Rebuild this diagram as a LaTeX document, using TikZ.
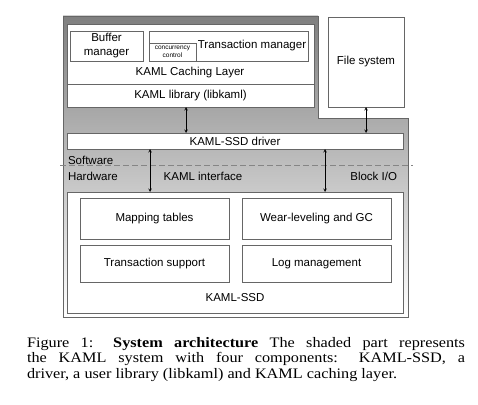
\documentclass[tikz,border=0pt]{standalone}
\usepackage{fontspec}
\setmainfont{Liberation Serif}
\newfontfamily\diagfont{Liberation Sans}
\newfontfamily\capfont[FakeStretch=1.12]{Liberation Serif}
\usetikzlibrary{positioning}
\definecolor{shade}{gray}{0.91}
\definecolor{edge}{gray}{0.40}
\begin{document}
\begin{tikzpicture}[x=1pt, y=-1pt, font=\diagfont\fontsize{11.5}{14}\selectfont, every node/.style={inner sep=0pt, outer sep=0pt}, box/.style={draw=edge, fill=white, line width=0.7pt, anchor=north west, align=center}, arr/.style={<->, >=stealth, line width=0.6pt}]
	\useasboundingbox (0,0) rectangle (478,404);
	
	% shaded part
	\fill[shade, draw=edge, line width=0.7pt] (63,16) -- (318,16) -- (318,118) -- (408,118) -- (408,317) -- (63,317) -- cycle;
	
	% software side
	\node[box, minimum width=247, minimum height=60] (cache) at (67,24) {};
	\node[box, minimum width=73, minimum height=30] (buf) at (70,31) {Buffer\\manager};
	\node[box, minimum width=159, minimum height=30] (txn) at (149,31) {};
	\node[box, minimum width=47, minimum height=18, font=\diagfont\fontsize{6.5}{7.5}\selectfont] (cc) at (149,43) {concurrency\\control};
	\node (txnlabel) at (252,46) {Transaction manager};
	\node (cachelabel) at (190,73) {KAML Caching Layer};
	\node[box, minimum width=247, minimum height=23] (lib) at (67,84) {KAML library (libkaml)};
	\node[box, minimum width=76, minimum height=90] (fs) at (328,17) {File system};
	\node[box, minimum width=336, minimum height=16] (drv) at (67,133) {KAML-SSD driver};
	
	% hardware side
	\node[box, minimum width=336, minimum height=121] (ssd) at (67,192) {};
	\node[box, minimum width=149, minimum height=41] (map) at (80,198) {Mapping tables};
	\node[box, minimum width=149, minimum height=41] (wear) at (242,198) {Wear-leveling and GC};
	\node[box, minimum width=149, minimum height=37] (tsup) at (80,245) {Transaction support};
	\node[box, minimum width=149, minimum height=37] (log) at (242,245) {Log management};
	\node (ssdlabel) at (235,298) {KAML-SSD};
	
	% software / hardware line
	\draw[edge!80, dash pattern=on 6pt off 3pt, line width=0.8pt] (60,165) -- (413,165);
	\node[anchor=west] (sw) at (68,160) {Software};
	\node[anchor=west] (hw) at (68,176) {Hardware};
	\node (kif) at (203,176) {KAML interface};
	\node[anchor=east] (bio) at (397,176) {Block I/O};
	
	% arrows
	\coordinate (libx) at (186,0);
	\coordinate (kix) at (150,0);
	\coordinate (bix) at (325,0);
	\draw[arr] (lib.south -| libx) -- (drv.north -| libx);
	\draw[arr] (fs.south) -- (fs.south |- drv.north);
	\draw[arr] (drv.south -| kix) -- (ssd.north -| kix);
	\draw[arr] (drv.south -| bix) -- (ssd.north -| bix);
	
	% caption
	\node[anchor=north west, text width=438pt, align=justify, font=\capfont\fontsize{14.5}{15.5}\selectfont] (caption) at (27,337) {\noindent Figure 1: \textbf{System architecture} The shaded part represents\linebreak the KAML system with four components: KAML-SSD, a\linebreak driver, a user library (libkaml) and KAML caching layer.};
\end{tikzpicture}
\end{document}
